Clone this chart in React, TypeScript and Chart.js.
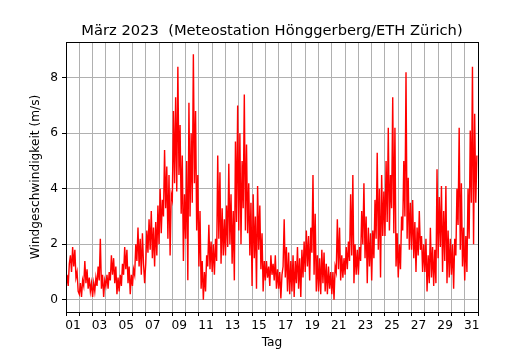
import React, { useEffect, useRef } from "react";
import { Chart, registerables } from "chart.js";

Chart.register(...registerables);

// Wind speed (m/s), one value every 2 hours (00:00, 02:00, ... 22:00) per day of March 2023
const mar01 = [0.4, 0.9, 0.5, 1.3, 1.6, 1.0, 1.9, 1.2, 1.8, 0.8, 1.0, 0.3];
const mar02 = [0.2, 0.6, 0.1, 0.7, 0.5, 1.4, 0.6, 1.1, 0.4, 0.8, 0.3, 0.6];
const mar03 = [0.1, 0.6, 0.3, 0.8, 0.5, 1.2, 0.7, 2.2, 0.4, 0.9, 0.1, 0.7];
const mar04 = [0.5, 0.9, 0.4, 1.0, 0.7, 1.6, 0.9, 1.5, 0.6, 1.2, 0.2, 0.8];
const mar05 = [0.3, 0.9, 0.5, 1.3, 0.9, 1.9, 1.1, 1.8, 0.6, 1.2, 0.2, 0.9];
const mar06 = [0.5, 1.1, 0.9, 2.0, 1.4, 2.6, 1.2, 2.2, 0.9, 2.4, 1.3, 0.6];
const mar07 = [1.3, 2.5, 1.7, 2.9, 1.8, 3.2, 1.5, 2.6, 1.2, 2.8, 1.6, 3.4];
const mar08 = [2.0, 4.0, 2.4, 3.6, 3.0, 5.4, 3.3, 4.8, 2.2, 4.5, 1.6, 3.8];
const mar09 = [3.6, 6.8, 4.2, 7.3, 3.9, 8.4, 4.5, 6.3, 3.1, 5.2, 1.4, 3.8];
const mar10 = [2.2, 5.0, 0.7, 7.1, 3.0, 6.0, 3.5, 8.85, 4.2, 6.8, 2.5, 4.5];
const mar11 = [1.2, 3.2, 0.4, 1.4, 0.0, 1.0, 0.3, 1.6, 1.2, 2.7, 1.1, 2.1];
const mar12 = [1.0, 2.0, 0.9, 2.2, 1.4, 5.2, 2.2, 4.6, 1.3, 3.3, 1.6, 2.9];
const mar13 = [1.6, 3.4, 1.9, 4.9, 2.0, 3.8, 1.3, 3.2, 0.7, 5.7, 2.8, 7.0];
const mar14 = [2.5, 6.0, 2.0, 5.0, 3.3, 7.4, 2.5, 5.6, 2.4, 4.2, 1.6, 3.5];
const mar15 = [0.5, 3.8, 1.5, 3.0, 0.4, 4.1, 1.8, 3.4, 1.1, 2.4, 0.3, 1.4];
const mar16 = [0.7, 1.4, 0.8, 1.2, 0.5, 1.6, 0.9, 1.3, 0.7, 1.6, 0.4, 1.1];
const mar17 = [0.4, 1.0, 0.05, 0.9, 1.2, 2.9, 0.8, 1.9, 0.3, 1.7, 0.2, 1.4];
const mar18 = [0.3, 1.6, 0.1, 1.4, 0.6, 1.9, 0.4, 1.5, 0.1, 1.8, 0.8, 2.1];
const mar19 = [1.0, 2.5, 1.2, 2.3, 0.7, 2.6, 1.7, 4.5, 0.9, 3.1, 0.3, 1.6];
const mar20 = [0.3, 1.5, 0.2, 1.8, 0.6, 1.7, 0.3, 1.3, 0.2, 1.2, 0.4, 1.0];
const mar21 = [0.2, 1.0, 0.0, 1.2, 1.0, 2.9, 1.1, 2.6, 0.7, 1.6, 0.8, 1.5];
const mar22 = [0.9, 1.9, 1.1, 2.1, 1.4, 3.8, 1.6, 4.5, 0.6, 2.0, 0.9, 1.8];
const mar23 = [0.9, 1.9, 1.4, 3.2, 2.0, 4.2, 1.5, 3.0, 0.6, 2.6, 1.2, 2.4];
const mar24 = [0.7, 2.5, 1.5, 3.6, 2.2, 5.3, 1.8, 4.0, 0.8, 4.5, 2.3, 3.9];
const mar25 = [2.3, 5.0, 2.8, 6.2, 2.5, 4.5, 3.3, 7.3, 2.4, 6.2, 1.2, 2.4];
const mar26 = [0.8, 2.0, 1.1, 3.0, 2.5, 5.0, 3.0, 8.2, 2.2, 4.4, 1.8, 3.5];
const mar27 = [1.8, 3.6, 1.5, 2.8, 1.0, 2.6, 1.6, 3.2, 1.8, 2.3, 1.0, 2.0];
const mar28 = [1.0, 2.2, 0.3, 1.6, 0.6, 2.6, 0.8, 1.9, 0.5, 1.8, 0.6, 4.7];
const mar29 = [1.5, 3.7, 1.9, 4.1, 1.0, 3.2, 1.4, 4.1, 0.6, 2.5, 0.8, 2.2];
const mar30 = [0.9, 2.0, 0.4, 2.2, 1.6, 4.0, 2.7, 6.2, 1.8, 4.2, 1.2, 2.6];
const mar31 = [0.7, 2.3, 1.0, 4.0, 2.2, 6.1, 3.5, 8.4, 2.0, 6.7, 3.5, 5.2];

const days = [
  mar01, mar02, mar03, mar04, mar05, mar06, mar07, mar08, mar09, mar10,
  mar11, mar12, mar13, mar14, mar15, mar16, mar17, mar18, mar19, mar20,
  mar21, mar22, mar23, mar24, mar25, mar26, mar27, mar28, mar29, mar30, mar31,
];
const STEP_HOURS = 2;

const titleText = "März 2023  (Meteostation Hönggerberg/ETH Zürich)";
const xTitle = "Tag";
const yTitle = "Windgeschwindigkeit (m/s)";
const yTicks = [0, 2, 4, 6, 8];

const FONT = "'DejaVu Sans', sans-serif";
const TICK_SIZE = 12.2;
const TITLE_SIZE = 14.7;

export default function App() {
  const ref = useRef<HTMLCanvasElement | null>(null);

  useEffect(() => {
    if (!ref.current) return;
    const points = days.flatMap((vals, d) =>
      vals.map((v, k) => ({ x: d + (k * STEP_HOURS) / 24, y: v }))
    );

    const frame = {
      id: "frame",
      afterDraw(chart: any) {
        const { ctx, chartArea } = chart;
        ctx.save();
        ctx.strokeStyle = "#000";
        ctx.lineWidth = 1;
        ctx.strokeRect(
          Math.round(chartArea.left) + 0.5,
          Math.round(chartArea.top) + 0.5,
          Math.round(chartArea.right - chartArea.left),
          Math.round(chartArea.bottom - chartArea.top)
        );
        ctx.fillStyle = "#000";
        ctx.font = `${TITLE_SIZE}px ${FONT}`;
        ctx.textAlign = "center";
        ctx.textBaseline = "alphabetic";
        ctx.fillText(titleText, (chartArea.left + chartArea.right) / 2, chartArea.top - 7);
        ctx.restore();
      },
    };

    const chart = new Chart(ref.current, {
      type: "line",
      data: {
        datasets: [
          {
            data: points,
            borderColor: "#ff0000",
            borderWidth: 1.4,
            pointRadius: 0,
            tension: 0,
            fill: false,
          },
        ],
      },
      options: {
        animation: false,
        responsive: false,
        maintainAspectRatio: false,
        layout: { padding: { left: 0, right: 52, top: 42, bottom: 0 } },
        plugins: {
          legend: { display: false },
          tooltip: { enabled: false },
          title: { display: false },
        },
        scales: {
          x: {
            type: "linear",
            min: 0,
            max: days.length,
            afterFit: (s: any) => {
              s.height = 38;
            },
            border: { display: true, color: "#000", width: 1 },
            grid: {
              color: "#b0b0b0",
              lineWidth: 1,
              tickColor: "#000",
              tickLength: 4,
              drawTicks: true,
            },
            ticks: {
              stepSize: 1,
              autoSkip: false,
              maxRotation: 0,
              minRotation: 0,
              includeBounds: false,
              labelOffset: 7,
              padding: 3,
              color: "#000",
              font: { family: FONT, size: TICK_SIZE },
              callback: (v: any) => {
                const n = Number(v);
                if (n % 2 !== 0 || n >= days.length) return "";
                return String(n + 1).padStart(2, "0");
              },
            },
            title: {
              display: true,
              text: xTitle,
              color: "#000",
              font: { family: FONT, size: TICK_SIZE },
              padding: { top: 0, bottom: 0 },
            },
          },
          y: {
            type: "linear",
            min: -0.44,
            max: 9.29,
            afterFit: (s: any) => {
              s.width = 66;
            },
            afterBuildTicks: (s: any) => {
              s.ticks = yTicks.map((v) => ({ value: v }));
            },
            border: { display: true, color: "#000", width: 1 },
            grid: {
              color: "#b0b0b0",
              lineWidth: 1,
              tickColor: "#000",
              tickLength: 4,
            },
            ticks: {
              padding: 4,
              color: "#000",
              font: { family: FONT, size: TICK_SIZE },
            },
            title: {
              display: true,
              text: yTitle,
              color: "#000",
              font: { family: FONT, size: TICK_SIZE },
              padding: { top: 28.5, bottom: 0 },
            },
          },
        },
      },
      plugins: [frame],
    } as any);

    return () => chart.destroy();
  }, []);

  return (
    <div style={{ position: "fixed", left: 0, top: 0, width: 530, height: 350, background: "#fff" }}>
      <canvas ref={ref} width={530} height={350} style={{ width: 530, height: 350 }} />
    </div>
  );
}
